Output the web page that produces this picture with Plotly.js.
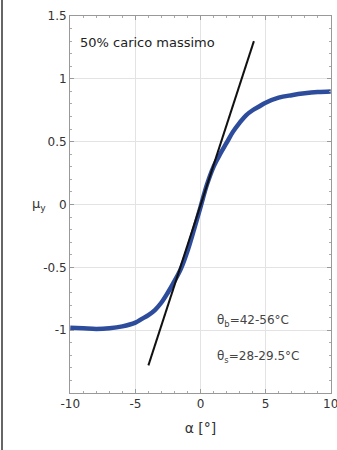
<!DOCTYPE html>
<html>
<head>
<meta charset="utf-8">
<script src="https://cdn.plot.ly/plotly-3.0.1.min.js"></script>
<style>
html,body{margin:0;padding:0;background:#fff;}
#wrap{position:relative;width:337px;height:450px;overflow:hidden;}
#edge{position:absolute;left:1px;top:0;width:2px;height:450px;background:#666;z-index:5;}
#chart{width:337px;height:450px;}
</style>
</head>
<body>
<div id="wrap"><div id="edge"></div><div id="chart"></div></div>
<script>
// Friction coefficient curve (alpha in degrees, mu_y)
var alphaDeg = [-10,-9,-8,-7,-6,-5,-4.5,-4,-3.5,-3,-2.5,-2,-1.5,-1,-0.5,0,0.5,1,1.5,2,2.5,3,3.5,4,4.5,5,6,7,8,9,10];
var muY = [-0.98,-0.985,-0.99,-0.985,-0.97,-0.94,-0.91,-0.88,-0.84,-0.78,-0.70,-0.61,-0.51,-0.37,-0.2,-0.02,0.16,0.3,0.40,0.49,0.58,0.65,0.71,0.75,0.78,0.81,0.85,0.87,0.885,0.895,0.9];
// Linear fit line
var fitAlpha = [-4, 4.1];
var fitMu = [-1.28, 1.30];
// Tick labels
var xTicks = [-10,-5,0,5,10];
var xTickText = ['-10','-5','0','5','10'];
var yTicks = [-1,-0.5,0,0.5,1,1.5];
var yTickText = ['-1','-0.5','0','0.5','1','1.5'];

var FONT = 'DejaVu Sans, Arial, sans-serif';

var traces = [
  {x: alphaDeg, y: muY, mode: 'lines', line: {color: '#2d4d9c', width: 4.5, shape: 'spline'}, hoverinfo: 'skip'},
  {x: fitAlpha, y: fitMu, mode: 'lines', line: {color: '#111', width: 2}, hoverinfo: 'skip'}
];

var axCommon = {
  showline: true, linecolor: '#999', linewidth: 1, mirror: 'ticks',
  ticks: 'inside', ticklen: 4, tickcolor: '#999',
  showgrid: true, gridcolor: '#e3e3e3', gridwidth: 1,
  zeroline: false, ticklabeloverflow: 'allow',
  tickfont: {family: FONT, size: 12, color: '#333'}
};

var layout = {
  width: 337, height: 450,
  margin: {l: 70, r: 6, t: 16, b: 57},
  paper_bgcolor: '#fff', plot_bgcolor: '#fff',
  showlegend: false,
  xaxis: Object.assign({}, axCommon, {
    range: [-10.02, 10.02], tickmode: 'array', tickvals: xTicks, ticktext: xTickText,
    minor: {ticks: 'inside', ticklen: 2, tickcolor: '#aaa', dtick: 1, showgrid: false},
    title: {text: 'α [°]', font: {family: FONT, size: 14, color: '#333'}, standoff: 12}
  }),
  yaxis: Object.assign({}, axCommon, {
    range: [-1.5, 1.5], tickmode: 'array', tickvals: yTicks, ticktext: yTickText,
    minor: {ticks: 'inside', ticklen: 2, tickcolor: '#aaa', dtick: 0.1, showgrid: false}
  }),
  annotations: [
    {xref: 'paper', yref: 'y', x: -0.12, y: 0, text: 'μ<sub>y</sub>', showarrow: false,
     xanchor: 'center', font: {family: FONT, size: 13, color: '#333'}},
    {xref: 'paper', yref: 'paper', x: 0.03, y: 0.955, text: '50% carico massimo', showarrow: false,
     xanchor: 'left', font: {family: FONT, size: 13, color: '#222'}},
    {xref: 'paper', yref: 'paper', x: 0.555, y: 0.165, text: 'θ<sub>b</sub>=42-56°C', showarrow: false,
     xanchor: 'left', font: {family: FONT, size: 12, color: '#444'}},
    {xref: 'paper', yref: 'paper', x: 0.555, y: 0.07, text: 'θ<sub>s</sub>=28-29.5°C', showarrow: false,
     xanchor: 'left', font: {family: FONT, size: 12, color: '#444'}}
  ]
};

Plotly.newPlot('chart', traces, layout, {displayModeBar: false, staticPlot: true});
</script>
</body>
</html>
